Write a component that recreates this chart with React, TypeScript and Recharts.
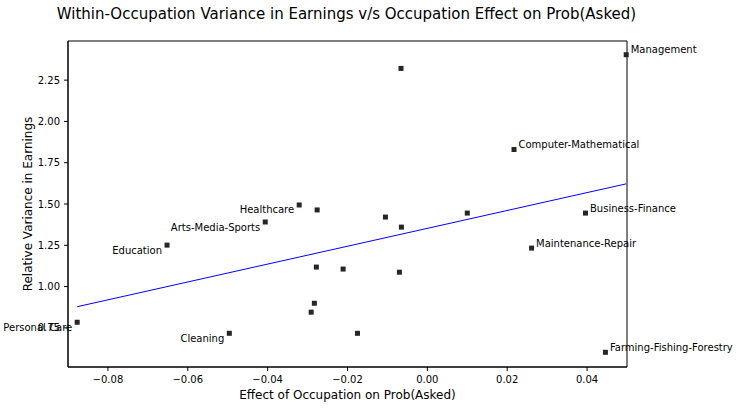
import React from "react";
import { ScatterChart, Scatter, XAxis, YAxis, ReferenceArea, Label } from "recharts";

const occupations = [
  "Management", "", "Computer-Mathematical", "Healthcare", "", "Arts-Media-Sports",
  "Education", "", "", "", "", "Personal Care", "Cleaning", "", "", "", "",
  "Business-Finance", "Maintenance-Repair", "Farming-Fishing-Forestry", "",
];
const effectOnAsked = [
  0.0498, -0.0066, 0.0217, -0.0321, -0.0276, -0.0406,
  -0.0652, -0.0278, -0.0211, -0.0283, -0.0291, -0.0877, -0.0496, -0.0175, -0.0105, -0.0065, 0.01,
  0.0396, 0.0261, 0.0446, -0.007,
];
const relVariance = [
  2.404, 2.321, 1.83, 1.494, 1.464, 1.391,
  1.251, 1.118, 1.106, 0.899, 0.845, 0.784, 0.717, 0.717, 1.421, 1.36, 1.445,
  1.445, 1.233, 0.602, 1.087,
];
const fitX = [-0.0877, 0.0498];
const fitY = [0.878, 1.622];
const xTicks = [-0.08, -0.06, -0.04, -0.02, 0, 0.02, 0.04];
const yTicks = [0.75, 1.0, 1.25, 1.5, 1.75, 2.0, 2.25];
const xDomain = [-0.09, 0.05];
const yDomain = [0.513, 2.487];

const points = occupations.map((name, i) => ({ name, x: effectOnAsked[i], y: relVariance[i] }));
const fitLine = fitX.map((x, i) => ({ x, y: fitY[i] }));

const FONT = "DejaVu Sans";
const fmt = (v: number) => v.toFixed(2).replace("-", "\u2212");

const PointShape = (props: any) => {
  const { cx, cy, payload } = props;
  const label = payload?.name;
  const left = payload?.x < 0;
  return (
    <g>
      <rect x={cx - 2.5} y={cy - 2.5} width={5} height={5} fill="#262626" />
      {label ? (
        <text
          x={left ? cx - 5 : cx + 4.5}
          y={left ? cy + 5 : cy - 5}
          textAnchor={left ? "end" : "start"}
          dominantBaseline="central"
          fontSize={10}
          fill="#000"
          fontFamily={FONT}
        >
          {label}
        </text>
      ) : null}
    </g>
  );
};

const NoShape = () => <g />;

export default function App() {
  return (
    <div style={{ position: "absolute", left: 0, top: 0, width: 739, height: 408, background: "#fff" }}>
      <div
        style={{
          position: "absolute",
          left: 0,
          top: 5,
          width: 693,
          textAlign: "center",
          fontFamily: FONT,
          fontSize: 15,
          lineHeight: "18px",
          color: "#000",
          whiteSpace: "nowrap",
        }}
      >
        Within-Occupation Variance in Earnings v/s Occupation Effect on Prob(Asked)
      </div>
      <ScatterChart width={739} height={408} margin={{ top: 41, right: 112, bottom: 11, left: 8 }}>
        <XAxis
          type="number"
          dataKey="x"
          domain={xDomain}
          ticks={xTicks}
          tickFormatter={fmt}
          height={30}
          tickSize={4}
          tickMargin={5}
          stroke="#000"
          tick={{ fontSize: 10, fill: "#000", fontFamily: FONT }}
        >
          <Label
            content={(p: any) => {
              const vb = p.viewBox || {};
              return (
                <text x={vb.x + vb.width / 2} y={399} textAnchor="middle" fontSize={12} fontFamily={FONT} fill="#000">
                  Effect of Occupation on Prob(Asked)
                </text>
              );
            }}
          />
        </XAxis>
        <YAxis
          type="number"
          dataKey="y"
          domain={yDomain}
          ticks={yTicks}
          tickFormatter={fmt}
          width={60}
          tickSize={4}
          tickMargin={4}
          stroke="#000"
          tick={{ fontSize: 10, fill: "#000", fontFamily: FONT }}
        >
          <Label
            content={(p: any) => {
              const vb = p.viewBox || {};
              const cy = vb.y + vb.height / 2;
              return (
                <text
                  x={28}
                  y={cy}
                  transform={`rotate(-90, 28, ${cy})`}
                  textAnchor="middle"
                  dominantBaseline="central"
                  fontSize={12}
                  fontFamily={FONT}
                  fill="#000"
                >
                  Relative Variance in Earnings
                </text>
              );
            }}
          />
        </YAxis>
        <ReferenceArea
          x1={xDomain[0]}
          x2={xDomain[1]}
          y1={yDomain[0]}
          y2={yDomain[1]}
          fill="none"
          fillOpacity={0}
          stroke="#000"
          strokeWidth={1}
        />
        <Scatter
          data={fitLine}
          line={{ stroke: "#0000ff", strokeWidth: 1 }}
          shape={NoShape}
          isAnimationActive={false}
        />
        <Scatter data={points} shape={PointShape} isAnimationActive={false} />
      </ScatterChart>
    </div>
  );
}
